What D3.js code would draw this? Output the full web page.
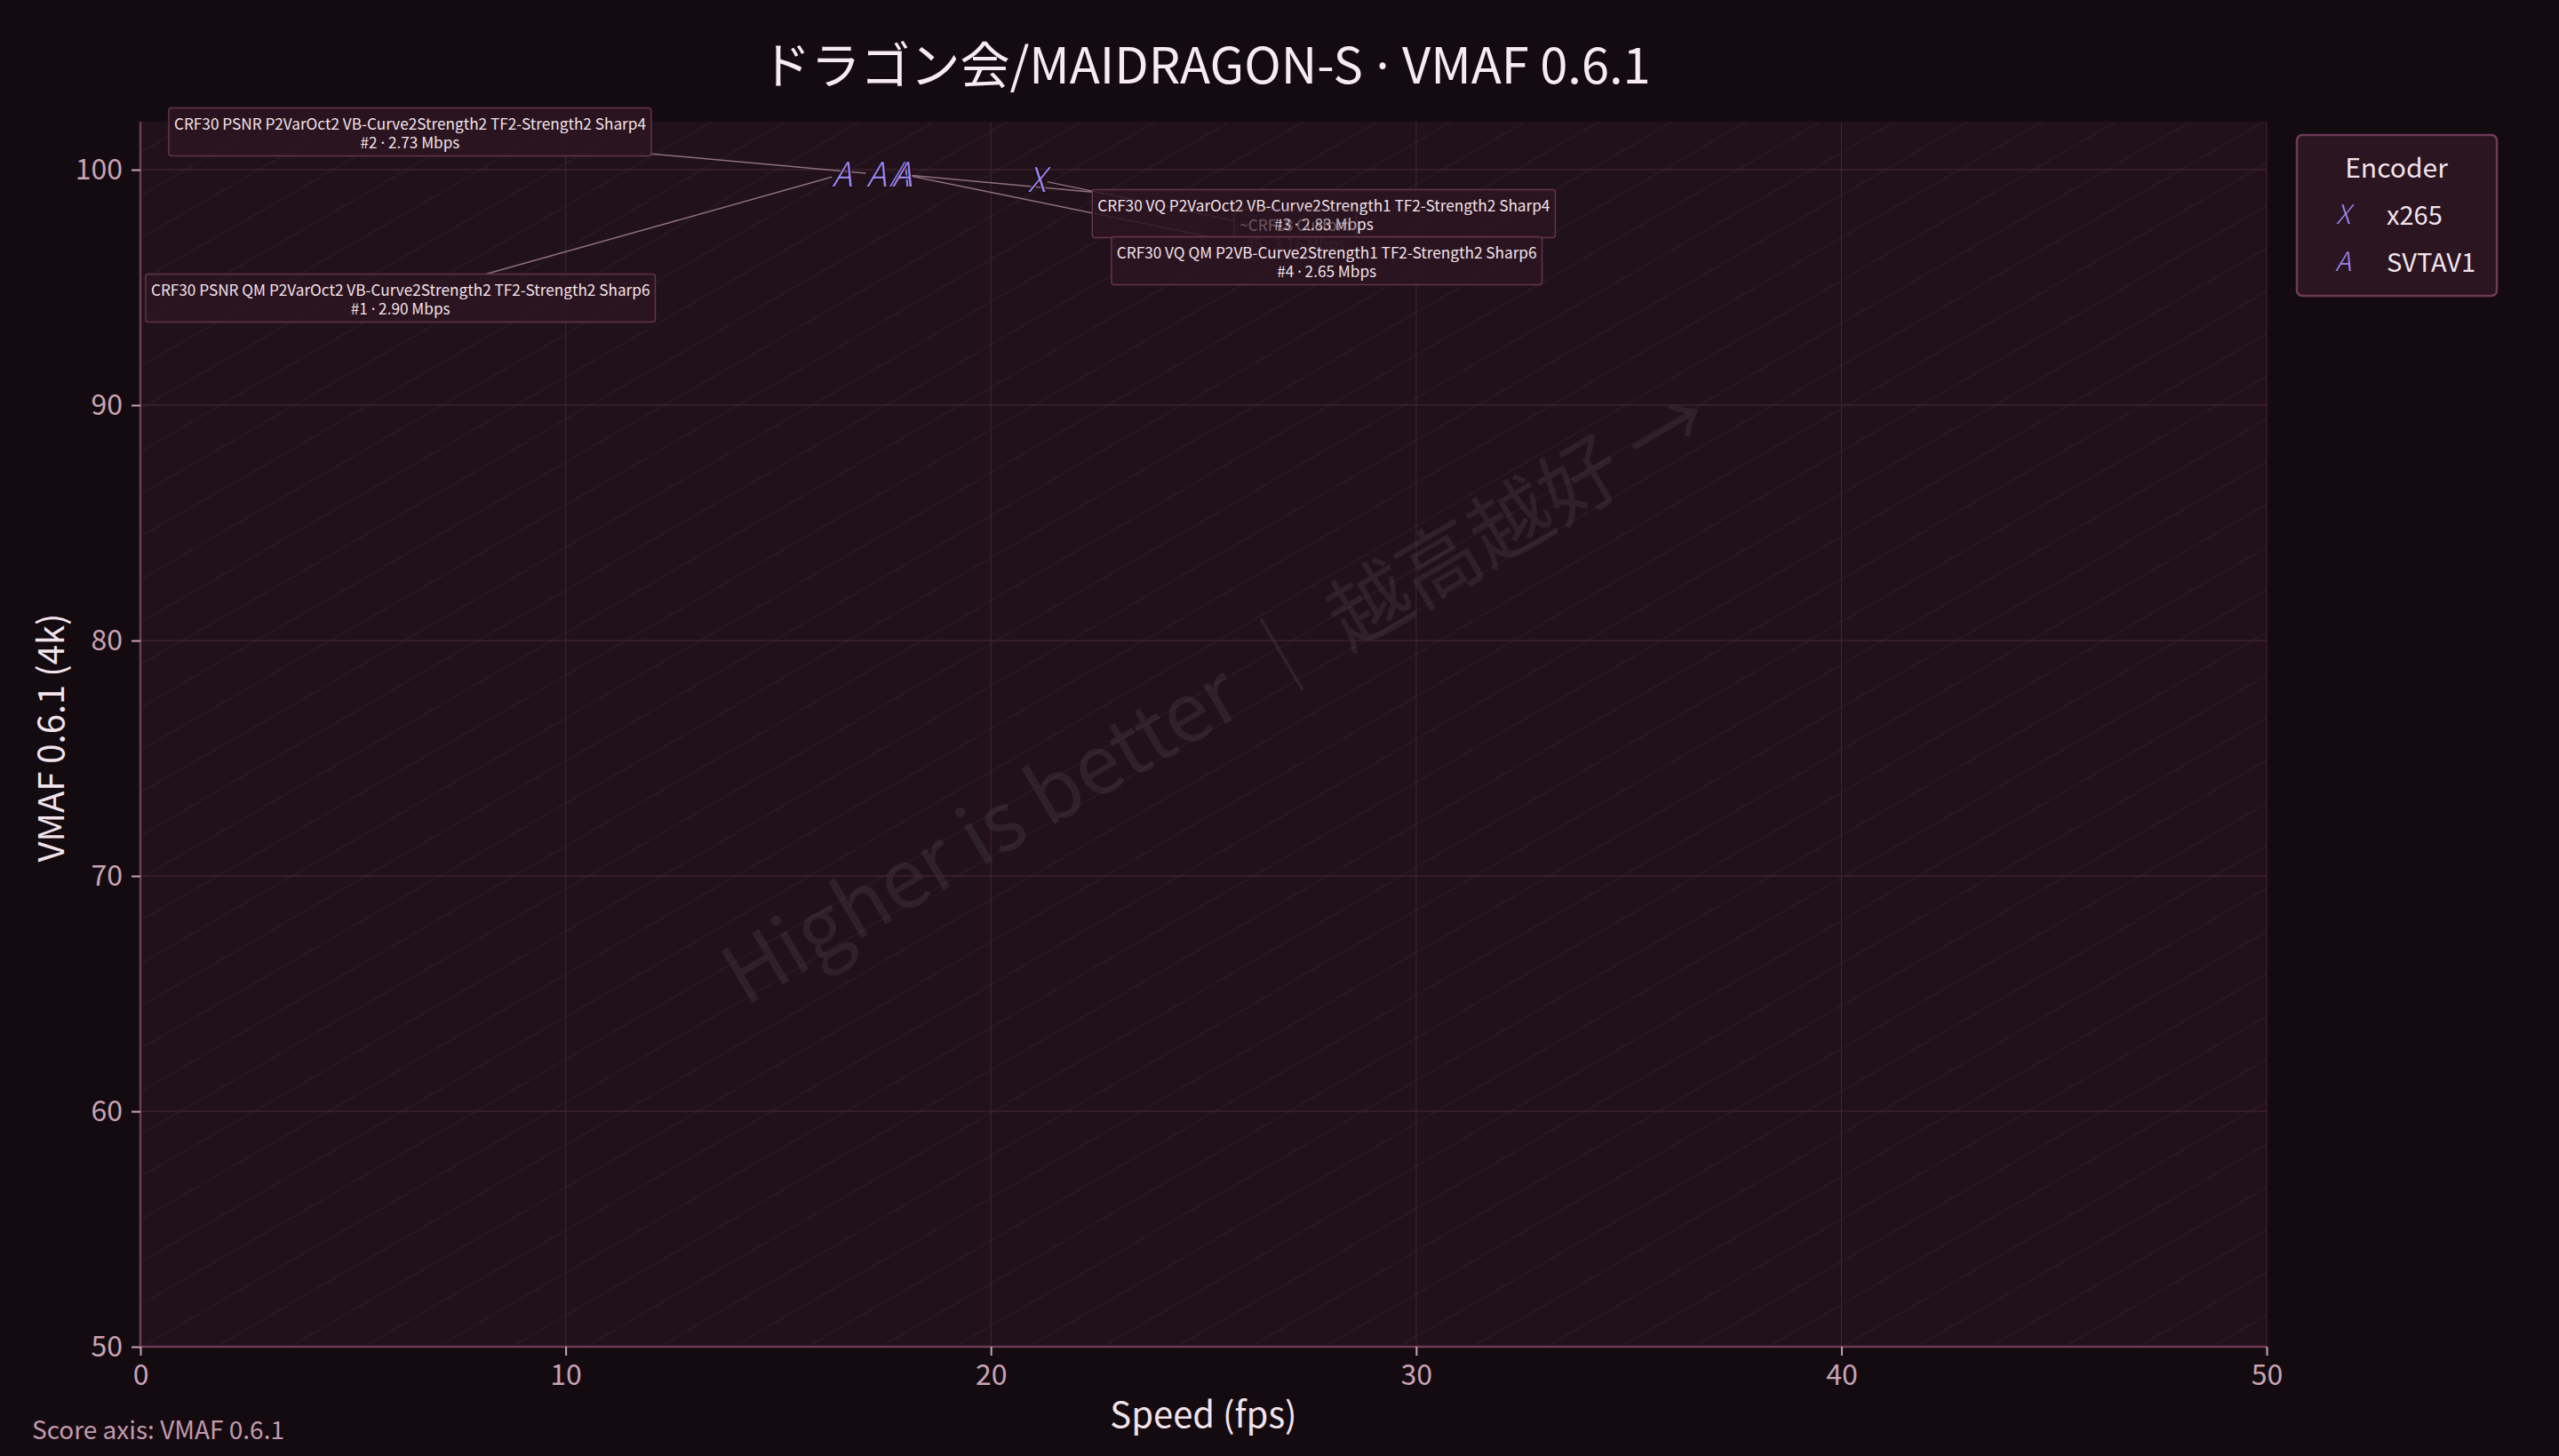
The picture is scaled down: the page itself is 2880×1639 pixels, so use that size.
<!DOCTYPE html>
<html><head><meta charset="utf-8">
<script src="https://cdn.jsdelivr.net/npm/d3@7"></script>
<style>
html,body{margin:0;padding:0;background:#140b10;}
svg{display:block;}
text{font-family:"Noto Sans CJK JP","Noto Sans",sans-serif;}
</style></head>
<body>
<script>
// ---- data ----
const encoders = ["x265", "SVTAV1"];
const encoderGlyph = ["X", "A"];
const pointEncoder = ["x265", "SVTAV1", "SVTAV1", "SVTAV1", "SVTAV1"];
const pointSpeed = [21.08, 16.50, 17.31, 17.84, 17.91];
const pointVmaf = [99.58, 99.81, 99.81, 99.81, 99.81];
const pointRank = [5, 1, 2, 3, 4];
const pointBitrate = [3.16, 2.90, 2.73, 2.83, 2.65];
const pointName = [
  "~CRF18 Custom",
  "CRF30 PSNR QM P2VarOct2 VB-Curve2Strength2 TF2-Strength2 Sharp6",
  "CRF30 PSNR P2VarOct2 VB-Curve2Strength2 TF2-Strength2 Sharp4",
  "CRF30 VQ P2VarOct2 VB-Curve2Strength1 TF2-Strength2 Sharp4",
  "CRF30 VQ QM P2VB-Curve2Strength1 TF2-Strength2 Sharp6"
];
const xTicks = [0, 10, 20, 30, 40, 50];
const yTicks = [50, 60, 70, 80, 90, 100];
const xDomain = [0, 50];
const yDomain = [50, 102.04];
const titleText = "ドラゴン会/MAIDRAGON-S · VMAF 0.6.1";
const xLabel = "Speed (fps)";
const yLabel = "VMAF 0.6.1 (4k)";
const legendTitle = "Encoder";
const footnote = "Score axis: VMAF 0.6.1";
const watermark = "Higher is better ｜ 越高越好 →";

// ---- layout (label offsets from points, px) ----
const labelDx = [291, -497, -525, 478, 478];
const labelDy = [62, 141, -46, 46, 99];
const labelFaded = [true, false, false, false, false];
const drawOrder = [1, 2, 3, 0, 4];

const W = 2880, H = 1639;
const M = {left: 158, right: 2551, top: 137, bottom: 1516};
const markerColor = "#a08af0";

// put narrow Latin middle dots into a non-CJK font
function setDotText(sel, str) {
  str.split(" · ").forEach((part, k) => {
    if (k > 0) sel.append("tspan").attr("font-family", '"Noto Sans",sans-serif').text(" · ");
    sel.append("tspan").text(part);
  });
}

const svg = d3.select("body").append("svg").attr("width", W).attr("height", H);
svg.append("rect").attr("width", W).attr("height", H).attr("fill", "#140b10");

const x = d3.scaleLinear().domain(xDomain).range([M.left, M.right]);
const y = d3.scaleLinear().domain(yDomain).range([M.bottom, M.top]);

const defs = svg.append("defs");
const pat = defs.append("pattern").attr("id", "hatch").attr("patternUnits", "userSpaceOnUse")
  .attr("width", 4000).attr("height", 41.6).attr("patternTransform", "rotate(-30)");
pat.append("line").attr("x1", 0).attr("x2", 4000).attr("y1", 20).attr("y2", 20)
  .attr("stroke", "#ffffff").attr("stroke-opacity", 0.035).attr("stroke-width", 1.5);
defs.append("clipPath").attr("id", "plotclip").append("rect")
  .attr("x", M.left).attr("y", M.top).attr("width", M.right - M.left).attr("height", M.bottom - M.top);

// plot background
svg.append("rect").attr("x", M.left).attr("y", M.top).attr("width", M.right - M.left)
  .attr("height", M.bottom - M.top).attr("fill", "#20111a");
svg.append("rect").attr("x", M.left).attr("y", M.top).attr("width", M.right - M.left)
  .attr("height", M.bottom - M.top).attr("fill", "url(#hatch)");

// watermark
const cx = (M.left + M.right) / 2 + 10, cy = (M.top + M.bottom) / 2 - 50;
svg.append("g").attr("clip-path", "url(#plotclip)")
  .append("text").attr("transform", `translate(${cx},${cy}) rotate(-30.5)`)
  .attr("text-anchor", "middle").attr("dominant-baseline", "central")
  .attr("font-size", 92).attr("fill", "#ffffff").attr("fill-opacity", 0.07)
  .text(watermark);

// grid
const grid = svg.append("g");
grid.selectAll("line.gy").data(yTicks).join("line")
  .attr("x1", M.left).attr("x2", M.right).attr("y1", d => y(d)).attr("y2", d => y(d))
  .attr("stroke", "#4a2538").attr("stroke-opacity", 0.75).attr("stroke-width", 1.6);
grid.selectAll("line.gx").data(xTicks).join("line")
  .attr("y1", M.top).attr("y2", M.bottom).attr("x1", d => x(d)).attr("x2", d => x(d))
  .attr("stroke", "#4a2538").attr("stroke-opacity", 0.75).attr("stroke-width", 1.2);

// axes
const tickColor = "#c9a2b5";
const xAxis = svg.append("g").attr("transform", `translate(0,${M.bottom})`)
  .call(d3.axisBottom(x).tickValues(xTicks).tickSize(10).tickPadding(10).tickFormat(d3.format("d")));
const yAxis = svg.append("g").attr("transform", `translate(${M.left},0)`)
  .call(d3.axisLeft(y).tickValues(yTicks).tickSize(10).tickPadding(10).tickFormat(d3.format("d")));
[xAxis, yAxis].forEach(a => {
  a.select(".domain").attr("stroke", "#6e3b55").attr("stroke-width", 2.5);
  a.selectAll(".tick line").attr("stroke", tickColor).attr("stroke-width", 2);
  a.selectAll(".tick text").attr("fill", tickColor).attr("font-size", 32)
    .attr("font-family", '"Noto Sans CJK JP","Noto Sans",sans-serif');
});
xAxis.select(".domain").attr("d", `M${M.left},0H${M.right}`);
yAxis.select(".domain").attr("d", `M0,${M.bottom}V${M.top}`);

// axis labels
svg.append("text").attr("x", (M.left + M.right) / 2).attr("y", 1607).attr("text-anchor", "middle")
  .attr("font-size", 40).attr("fill", "#f2e2ea").text(xLabel);
svg.append("text").attr("transform", `translate(72,${(M.top + M.bottom) / 2 + 4}) rotate(-90)`)
  .attr("text-anchor", "middle").attr("font-size", 40).attr("fill", "#f2e2ea").text(yLabel);

// title
const title = svg.append("text").attr("x", 1357).attr("y", 94).attr("text-anchor", "middle")
  .attr("font-size", 56).attr("fill", "#f7eaf0").attr("xml:space", "preserve");
setDotText(title, titleText);

// footnote
svg.append("text").attr("x", 36).attr("y", 1620).attr("font-size", 28)
  .attr("fill", "#c29aae").text(footnote);

// points + labels
const pts = pointSpeed.map((s, i) => ({
  i, speed: s, vmaf: pointVmaf[i], enc: pointEncoder[i], rank: pointRank[i],
  br: pointBitrate[i], name: pointName[i], px: x(s), py: y(pointVmaf[i])
}));

const lineLayer = svg.append("g");
const boxLayer = svg.append("g");
const markLayer = svg.append("g");

const fs = 17.2, lh = 21, padX = 6, padY = 4;
drawOrder.forEach(i => {
  const p = pts[i];
  const lx = p.px + labelDx[i], ly = p.py + labelDy[i];
  const g = boxLayer.append("g").attr("opacity", labelFaded[i] ? 0.32 : 1);
  const rect = g.append("rect");
  const t = g.append("text").attr("text-anchor", "middle").attr("font-size", fs).attr("fill", "#f3e2ea");
  t.append("tspan").attr("x", lx).attr("y", ly - lh / 2 + 6).text(p.name);
  const t2 = t.append("tspan").attr("x", lx).attr("y", ly + lh / 2 + 6);
  t2.append("tspan").text(`#${p.rank} `);
  t2.append("tspan").attr("font-family", '"Noto Sans",sans-serif').text("·");
  t2.append("tspan").text(` ${p.br.toFixed(2)} Mbps`);
  const bb = t.node().getBBox();
  const bx0 = bb.x - padX, bx1 = bb.x + bb.width + padX;
  const by0 = bb.y - padY, by1 = bb.y + bb.height + padY;
  rect.attr("x", bx0).attr("y", by0).attr("width", bx1 - bx0).attr("height", by1 - by0)
    .attr("rx", 3).attr("fill", "#2c1521").attr("fill-opacity", 0.86)
    .attr("stroke", "#643548").attr("stroke-width", 1.5);
  // leader line from box edge (toward box centre) to point
  const bcx = (bx0 + bx1) / 2, bcy = (by0 + by1) / 2;
  const dx = p.px - bcx, dy = p.py - bcy;
  const tx = dx !== 0 ? ((dx > 0 ? bx1 : bx0) - bcx) / dx : Infinity;
  const ty = dy !== 0 ? ((dy > 0 ? by1 : by0) - bcy) / dy : Infinity;
  const tEdge = Math.min(Math.abs(tx), Math.abs(ty));
  const len = Math.hypot(dx, dy);
  const tEnd = 1 - 12 / len;
  lineLayer.append("line")
    .attr("x1", bcx + dx * tEdge).attr("y1", bcy + dy * tEdge)
    .attr("x2", bcx + dx * tEnd).attr("y2", bcy + dy * tEnd)
    .attr("stroke", "#a57f8f").attr("stroke-opacity", 0.85).attr("stroke-width", 1.5);
});

const glyphOf = e => encoderGlyph[encoders.indexOf(e)];
const mfs = 38;
markLayer.selectAll("text").data(pts).join("text")
  .attr("x", d => d.px).attr("y", d => d.py + mfs * 0.365)
  .attr("text-anchor", "middle").attr("font-family", '"DejaVu Sans",sans-serif')
  .attr("font-style", "italic").attr("font-weight", 200).attr("font-size", mfs)
  .attr("fill", markerColor).attr("stroke", "#1a0c14").attr("stroke-width", 2.5)
  .attr("paint-order", "stroke").text(d => glyphOf(d.enc));

// legend
const lg = svg.append("g");
lg.append("rect").attr("x", 2585).attr("y", 152).attr("width", 225).attr("height", 181)
  .attr("rx", 6).attr("fill", "#2a1520").attr("stroke", "#6e3b55").attr("stroke-width", 2.5);
lg.append("text").attr("x", 2697).attr("y", 200).attr("text-anchor", "middle")
  .attr("font-size", 30).attr("fill", "#f2e2ea").text(legendTitle);
encoders.forEach((e, k) => {
  const base = 253 + k * 53;
  lg.append("text").attr("x", 2637).attr("y", base - 1).attr("text-anchor", "middle")
    .attr("font-family", '"DejaVu Sans",sans-serif').attr("font-style", "italic")
    .attr("font-weight", 200).attr("font-size", 30).attr("fill", markerColor).text(encoderGlyph[k]);
  lg.append("text").attr("x", 2686).attr("y", base).attr("font-size", 29)
    .attr("fill", "#f2e2ea").text(e);
});
</script>
</body></html>
